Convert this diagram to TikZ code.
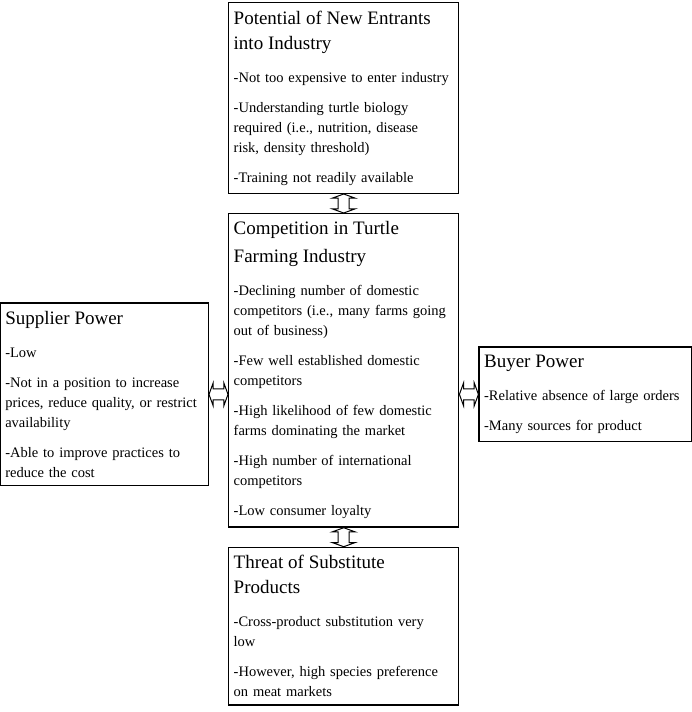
\documentclass[tikz,border=0pt]{standalone}
\usepackage{fontspec}
\setmainfont{Liberation Serif}
\usetikzlibrary{positioning,shapes.arrows,calc}

\newcommand{\boxtitle}[2][25]{{\fontsize{19}{#1}\selectfont #2\par}\vspace{3pt}}

\begin{document}
\begin{tikzpicture}[node distance=19pt,
  force/.style={rectangle, draw, line width=1.4pt, align=left, inner xsep=5pt, inner ysep=8pt,
    font=\fontsize{14.5}{20}\selectfont, execute at begin node={\setlength{\parskip}{10pt}\hyphenpenalty=10000}},
  dblarrow/.style={double arrow, draw, fill=white, line width=1pt, inner sep=5pt,
    minimum height=19pt, minimum width=22pt, double arrow head extend=6pt, double arrow tip angle=140}]

  \useasboundingbox (0,0) rectangle (692pt,-712pt);

  \node [force, text width=220pt, anchor=north west] (rivalry) at (228pt,-213pt) {\boxtitle[28]{Competition in Turtle\\Farming Industry}
    -Declining number of domestic\\competitors (i.e., many farms going\\out of business)\par
    -Few well established domestic\\competitors\par
    -High likelihood of few domestic\\farms dominating the market\par
    -High number of international\\competitors\par
    -Low consumer loyalty};
  \node [force, text width=220pt, above=19pt of rivalry] (entrants) {\boxtitle{Potential of New Entrants\\into Industry}
    -Not too expensive to enter industry\par
    -Understanding turtle biology\\required (i.e., nutrition, disease\\risk, density threshold)\par
    -Training not readily available};
  \node [force, text width=220pt, below=19pt of rivalry] (substitutes) {\boxtitle{Threat of Substitute\\Products}
    -Cross-product substitution very\\low\par
    -However, high species preference\\on meat markets};
  \node [force, text width=198pt, left=19pt of rivalry, yshift=-24pt] (supplier) {\boxtitle{Supplier Power}
    -Low\par
    -Not in a position to increase\\prices, reduce quality, or restrict\\availability\par
    -Able to improve practices to\\reduce the cost};
  \node [force, text width=203pt, right=19pt of rivalry, yshift=-24pt] (buyer) {\boxtitle{Buyer Power}
    -Relative absence of large orders\par
    -Many sources for product};

  % two-way arrows
  \node [dblarrow, rotate=90] (arrN) at ($(entrants.south)!0.5!(rivalry.north)$) {};
  \node [dblarrow, rotate=90] (arrS) at ($(rivalry.south)!0.5!(substitutes.north)$) {};
  \node [dblarrow] (arrW) at ($(supplier.east)!0.5!(supplier.east -| rivalry.west)$) {};
  \node [dblarrow] (arrE) at ($(buyer.west)!0.5!(buyer.west -| rivalry.east)$) {};
\end{tikzpicture}
\end{document}
